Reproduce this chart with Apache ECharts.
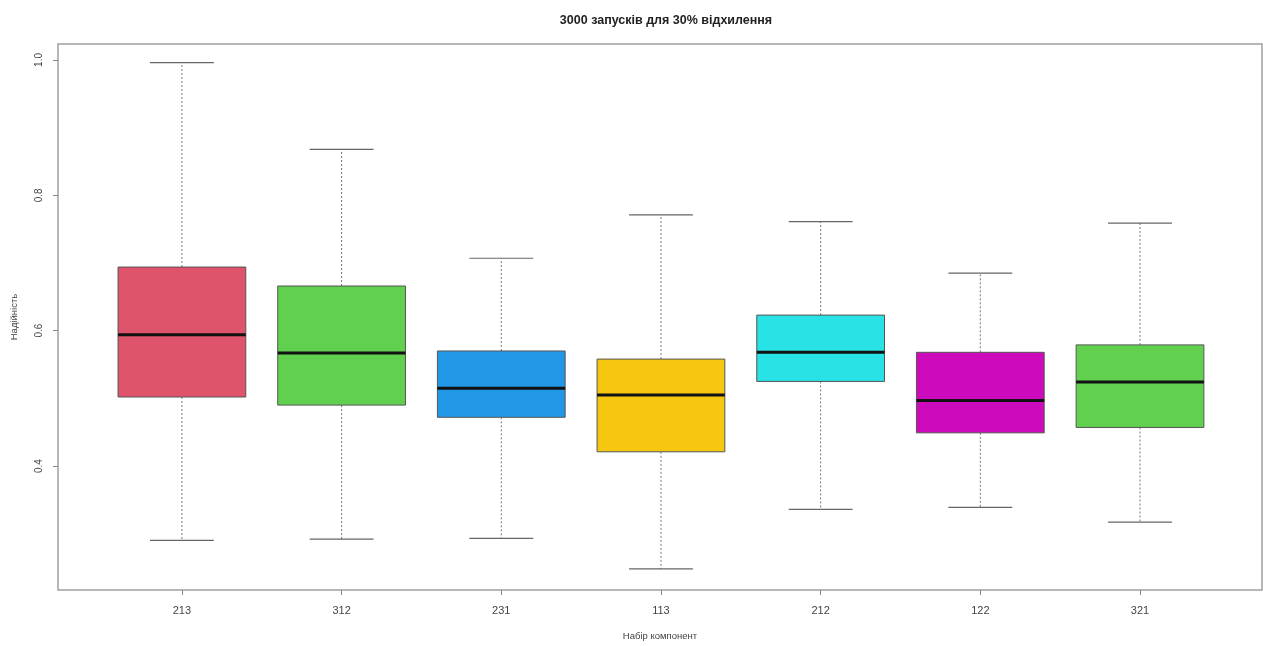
<!DOCTYPE html>
<html>
<head>
<meta charset="utf-8">
<script src="https://cdn.jsdelivr.net/npm/echarts@6/dist/echarts.min.js"></script>
<style>html,body{margin:0;padding:0;background:#fff}#c{width:1263px;height:646px}</style>
</head>
<body>
<div id="c"></div>
<script>
const categories = ['213', '312', '231', '113', '212', '122', '321'];
const whiskerLow = [0.290, 0.292, 0.293, 0.248, 0.336, 0.339, 0.317];
const q1Values = [0.502, 0.490, 0.472, 0.421, 0.525, 0.449, 0.457];
const medianValues = [0.594, 0.567, 0.515, 0.505, 0.568, 0.497, 0.524];
const q3Values = [0.694, 0.666, 0.570, 0.558, 0.623, 0.568, 0.579];
const whiskerHigh = [0.996, 0.868, 0.707, 0.771, 0.761, 0.685, 0.759];
const yTicks = [0.4, 0.6, 0.8, 1.0];
const boxColors = ['#DF536B', '#61D04F', '#2297E6', '#F5C710', '#28E2E5', '#CD0BBC', '#61D04F'];

const data = categories.map((c, i) => [i + 1, whiskerLow[i], q1Values[i], medianValues[i], q3Values[i], whiskerHigh[i]]);
const xTicks = categories.map((c, i) => i + 1);

const chart = echarts.init(document.getElementById('c'), null, {renderer: 'canvas'});
const textColor = '#444';
const fontFamily = '"Liberation Sans", Arial, sans-serif';

chart.setOption({
  animation: false,
  backgroundColor: '#fff',
  title: {
    text: '3000 запусків для 30% відхилення',
    left: 661, textAlign: 'center', top: 9,
    textStyle: {fontSize: 12.5, fontWeight: 'bold', color: '#222', fontFamily}
  },
  grid: {left: 58, right: 1, top: 44, bottom: 56, show: true, borderColor: '#a0a0a0', borderWidth: 1.5, containLabel: false},
  xAxis: {
    type: 'value', min: 0.224, max: 7.764,
    name: 'Набір компонент', nameLocation: 'middle', nameGap: 41,
    nameTextStyle: {fontSize: 9.5, color: textColor, fontFamily},
    axisLine: {show: false},
    splitLine: {show: false},
    axisTick: {show: true, customValues: xTicks, length: 5, lineStyle: {color: '#888'}},
    axisLabel: {customValues: xTicks, formatter: v => categories[Math.round(v) - 1], fontSize: 11, color: textColor, margin: 15, fontFamily}
  },
  yAxis: {
    type: 'value', min: 0.2168, max: 1.0236,
    name: 'Надійність', nameLocation: 'middle', nameGap: 39,
    nameTextStyle: {fontSize: 9.5, color: textColor, fontFamily},
    axisLine: {show: false},
    splitLine: {show: false},
    axisTick: {show: true, customValues: yTicks, length: 5, lineStyle: {color: '#888'}},
    axisLabel: {customValues: yTicks, formatter: v => v.toFixed(1), rotate: 90, fontSize: 10, color: textColor, margin: 14, fontFamily}
  },
  series: [{
    type: 'custom',
    data: data,
    encode: {x: 0, y: [1, 2, 3, 4, 5]},
    renderItem: function (params, api) {
      const x = api.value(0);
      const lo = api.coord([x, api.value(1)]);
      const q1 = api.coord([x, api.value(2)]);
      const md = api.coord([x, api.value(3)]);
      const q3 = api.coord([x, api.value(4)]);
      const hi = api.coord([x, api.value(5)]);
      const boxW = api.size([0.8, 0])[0];
      const capW = api.size([0.4, 0])[0];
      const cx = lo[0];
      const whiskerStyle = {stroke: '#777', lineWidth: 1, lineDash: [2, 2]};
      const capStyle = {stroke: '#666', lineWidth: 1.2};
      return {
        type: 'group',
        children: [
          {type: 'line', shape: {x1: cx, y1: q3[1], x2: cx, y2: hi[1]}, style: whiskerStyle},
          {type: 'line', shape: {x1: cx, y1: q1[1], x2: cx, y2: lo[1]}, style: whiskerStyle},
          {type: 'line', shape: {x1: cx - capW / 2, y1: hi[1], x2: cx + capW / 2, y2: hi[1]}, style: capStyle},
          {type: 'line', shape: {x1: cx - capW / 2, y1: lo[1], x2: cx + capW / 2, y2: lo[1]}, style: capStyle},
          {type: 'rect', shape: {x: cx - boxW / 2, y: q3[1], width: boxW, height: q1[1] - q3[1]},
            style: {fill: boxColors[params.dataIndex], stroke: '#555', lineWidth: 1}},
          {type: 'line', shape: {x1: cx - boxW / 2, y1: md[1], x2: cx + boxW / 2, y2: md[1]},
            style: {stroke: '#111', lineWidth: 3}}
        ]
      };
    }
  }]
});
</script>
</body>
</html>
